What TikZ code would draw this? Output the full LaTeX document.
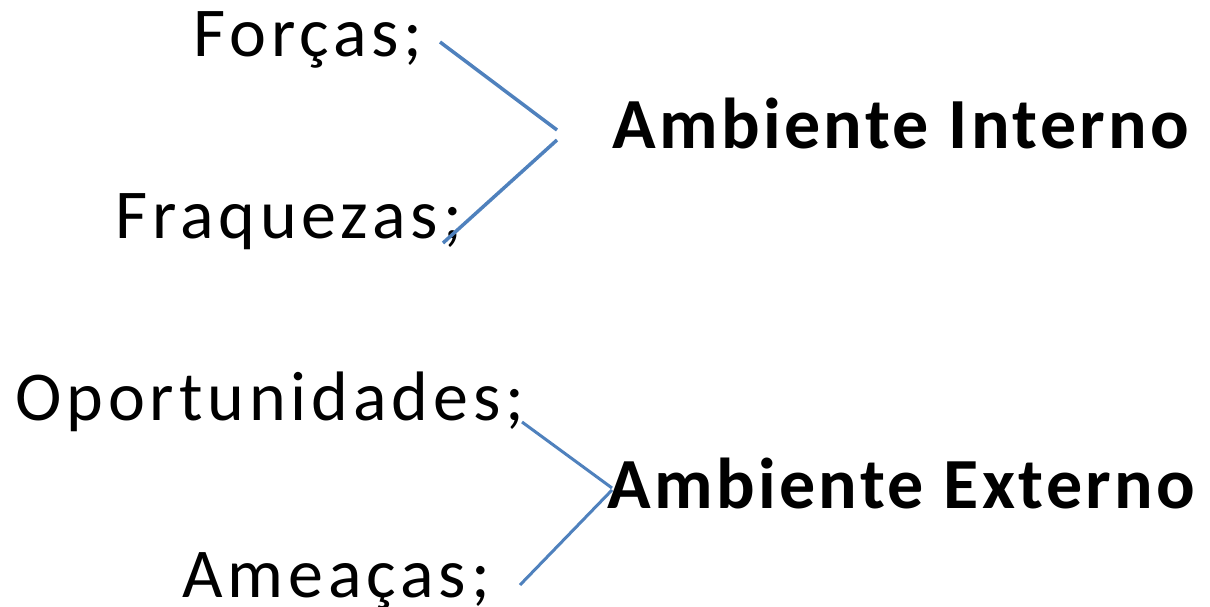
\documentclass[tikz,border=0pt]{standalone}
\usepackage{fontspec}
\setmainfont{Carlito}
\newfontfamily\lblfont[LetterSpace=7]{Carlito}
\newfontfamily\hdrfont[LetterSpace=4.7,BoldFont={Carlito Bold}]{Carlito}
\definecolor{brkt}{HTML}{4F81BD}
\begin{document}
\begin{tikzpicture}[x=1pt,y=-1pt,
  lbl/.style={anchor=base west,inner sep=0pt,font=\lblfont\fontsize{70}{84}\selectfont},
  hdr/.style={anchor=base west,inner sep=0pt,font=\hdrfont\fontsize{72}{86}\selectfont\bfseries},
  brk/.style={draw=brkt,line width=3.5pt}]
\useasboundingbox (0,0) rectangle (1210,607);
\node[lbl] (f) at (193,57) {Forças;};
\node[lbl] (w) at (115,238) {Fraquezas;};
\node[lbl] (o) at (15,420) {Oportunidades;};
\node[lbl] (t) at (182,597) {Ameaças;};
\node[hdr] (ai) at (612,149) {Ambiente Interno};
\node[hdr] (ae) at (607,508) {Ambiente Externo};
\coordinate (a1) at (440,42);
\coordinate (a2) at (557,130);
\coordinate (a3) at (557,140);
\coordinate (a4) at (443,243);
\coordinate (b1) at (522,422);
\coordinate (b2) at (612,488);
\coordinate (b3) at (612,490);
\coordinate (b4) at (520,585);
\draw[brk] (a1) -- (a2);
\draw[brk] (a3) -- (a4);
\draw[brk,line width=3pt] (b1) -- (b2);
\draw[brk,line width=3pt] (b3) -- (b4);
\end{tikzpicture}
\end{document}
